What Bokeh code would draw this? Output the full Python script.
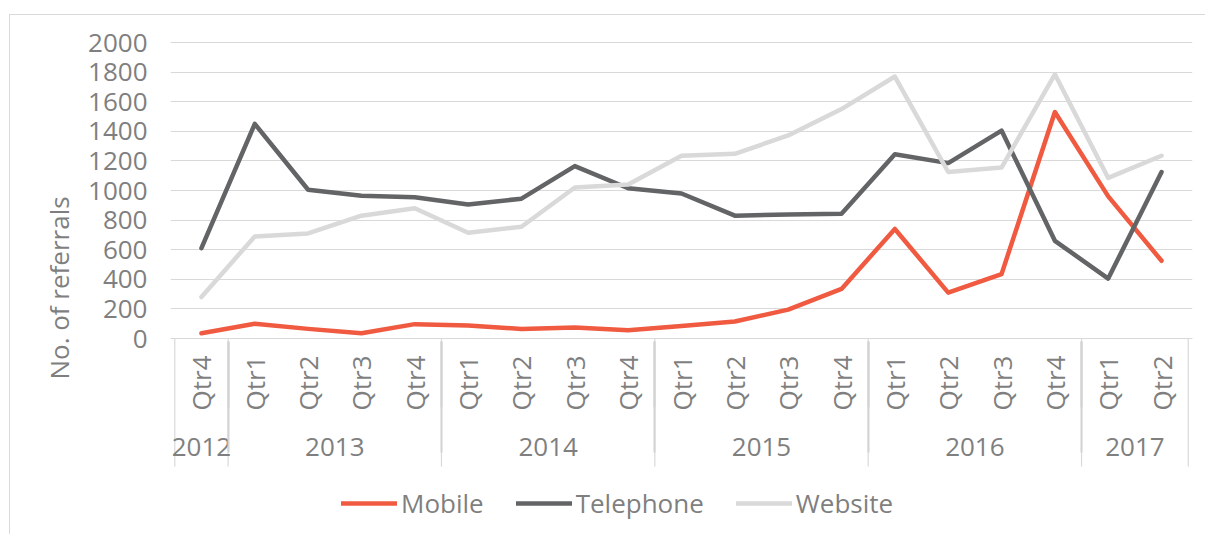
import math
from bokeh.plotting import figure
from bokeh.models import (FactorRange, Range1d, FixedTicker, CategoricalAxis,
                          Legend, LegendItem)
from bokeh.embed import file_html
from bokeh.resources import INLINE

# ---------------- data ----------------
year_labels = ["2012",
               "2013", "2013", "2013", "2013",
               "2014", "2014", "2014", "2014",
               "2015", "2015", "2015", "2015",
               "2016", "2016", "2016", "2016",
               "2017", "2017"]
quarter_labels = ["Qtr4",
                  "Qtr1", "Qtr2", "Qtr3", "Qtr4",
                  "Qtr1", "Qtr2", "Qtr3", "Qtr4",
                  "Qtr1", "Qtr2", "Qtr3", "Qtr4",
                  "Qtr1", "Qtr2", "Qtr3", "Qtr4",
                  "Qtr1", "Qtr2"]
mobile = [35, 100, 65, 35, 97, 88, 65, 75, 55, 85, 115, 195, 335,
          740, 310, 435, 1530, 960, 525]
telephone = [610, 1450, 1005, 965, 955, 905, 945, 1165, 1015, 980, 830, 838, 843,
             1245, 1185, 1405, 660, 405, 1125]
website = [280, 690, 710, 830, 880, 715, 755, 1020, 1040, 1235, 1248, 1372, 1550,
           1770, 1125, 1155, 1785, 1085, 1235]
series_names = ["Mobile", "Telephone", "Website"]
y_ticks = [0, 200, 400, 600, 800, 1000, 1200, 1400, 1600, 1800, 2000]
y_title = "No. of referrals"

# ---------------- style ----------------
FONT = "Open Sans"
TXT = "#7f7f7f"
GRID = "#d9d9d9"
colors = ["#F05A40", "#636466", "#D9D9D9"]
PX = 296 / 2000.0          # pixels per data unit (0 -> 2000 spans 296 px)

factors = list(zip(year_labels, quarter_labels))

x_range = FactorRange(factors=factors, group_padding=0, subgroup_padding=0,
                      factor_padding=0, range_padding=0.08,
                      range_padding_units="absolute")
y_range = Range1d(-(536 - 339) / PX, (339 - 41) / PX)

p = figure(x_range=x_range, y_range=y_range, width=1196, height=520,
           output_backend="svg", toolbar_location=None,
           min_border_left=160, min_border_right=14, min_border_top=25,
           min_border_bottom=0, outline_line_color=None,
           margin=(14, 0, 0, 9),
           styles={"border-top": "1px solid #d9d9d9",
                   "border-left": "1px solid #d9d9d9"})

# y axis
yt = FixedTicker(ticks=y_ticks)
ya = p.yaxis[0]
ya.ticker = yt
ya.bounds = (0, 2000)
ya.axis_line_color = None
ya.major_tick_line_color = None
ya.minor_tick_line_color = None
ya.major_tick_out = 0
ya.major_tick_in = 0
ya.minor_tick_out = 0
ya.major_label_standoff = 23
ya.major_label_text_font = FONT
ya.major_label_text_font_size = "26px"
ya.major_label_text_color = TXT
ya.axis_label = y_title
ya.axis_label_text_font = FONT
ya.axis_label_text_font_size = "26px"
ya.axis_label_text_font_style = "normal"
ya.axis_label_text_color = TXT
ya.axis_label_standoff = 8

p.ygrid.ticker = yt
p.ygrid.grid_line_color = GRID
p.ygrid.grid_line_width = 1.2
p.xgrid.visible = False

# x axis: quarter labels
xa = p.xaxis[0]
xa.fixed_location = 0
xa.axis_line_color = GRID
xa.axis_line_width = 1.2
xa.major_tick_line_color = None
xa.minor_tick_line_color = None
xa.major_tick_out = 0
xa.major_tick_in = 0
xa.minor_tick_out = 0
xa.major_label_orientation = math.pi / 2
xa.major_label_standoff = 17
xa.major_label_text_font = FONT
xa.major_label_text_font_size = "26px"
xa.major_label_text_color = TXT
xa.group_text_color = None
xa.group_text_font = FONT
xa.group_text_font_size = "26px"

# x axis: year labels
xb = CategoricalAxis(fixed_location=0, axis_line_color=None,
                     major_tick_line_color=None, minor_tick_line_color=None,
                     major_tick_out=0, major_tick_in=0, minor_tick_out=0,
                     major_label_orientation=math.pi / 2,
                     major_label_standoff=99,
                     major_label_text_font=FONT,
                     major_label_text_font_size="26px",
                     major_label_text_color=None,
                     group_text_font=FONT, group_text_font_size="26px",
                     group_text_color=TXT, group_text_font_style="normal")
p.add_layout(xb, "below")

# year separators
sep_x = []
for i, (yr, q) in enumerate(factors):
    if i == 0 or factors[i - 1][0] != yr:
        sep_x.append((yr, q, -0.5))
sep_x.append(factors[-1] + (0.5,))
sep_bottom = -(467 - 339) / PX
p.segment(x0=sep_x, y0=[0] * len(sep_x), x1=sep_x, y1=[sep_bottom] * len(sep_x),
          line_color=GRID, line_width=1.2)

# series
renderers = []
for name, vals, col in zip(series_names, [mobile, telephone, website], colors):
    r = p.line(x=factors, y=vals, line_color=col, line_width=4.5,
               line_cap="round", line_join="round")
    renderers.append(r)

legend = Legend(items=[LegendItem(label=n, renderers=[r])
                       for n, r in zip(series_names, renderers)],
                orientation="horizontal", location=(171, 14),
                glyph_width=56, glyph_height=20, label_standoff=4,
                spacing=32, padding=0, margin=0,
                border_line_color=None, background_fill_alpha=0,
                label_text_font=FONT, label_text_font_size="26px",
                label_text_color=TXT)
p.add_layout(legend)

open("out.html", "w").write(file_html(p, INLINE))
